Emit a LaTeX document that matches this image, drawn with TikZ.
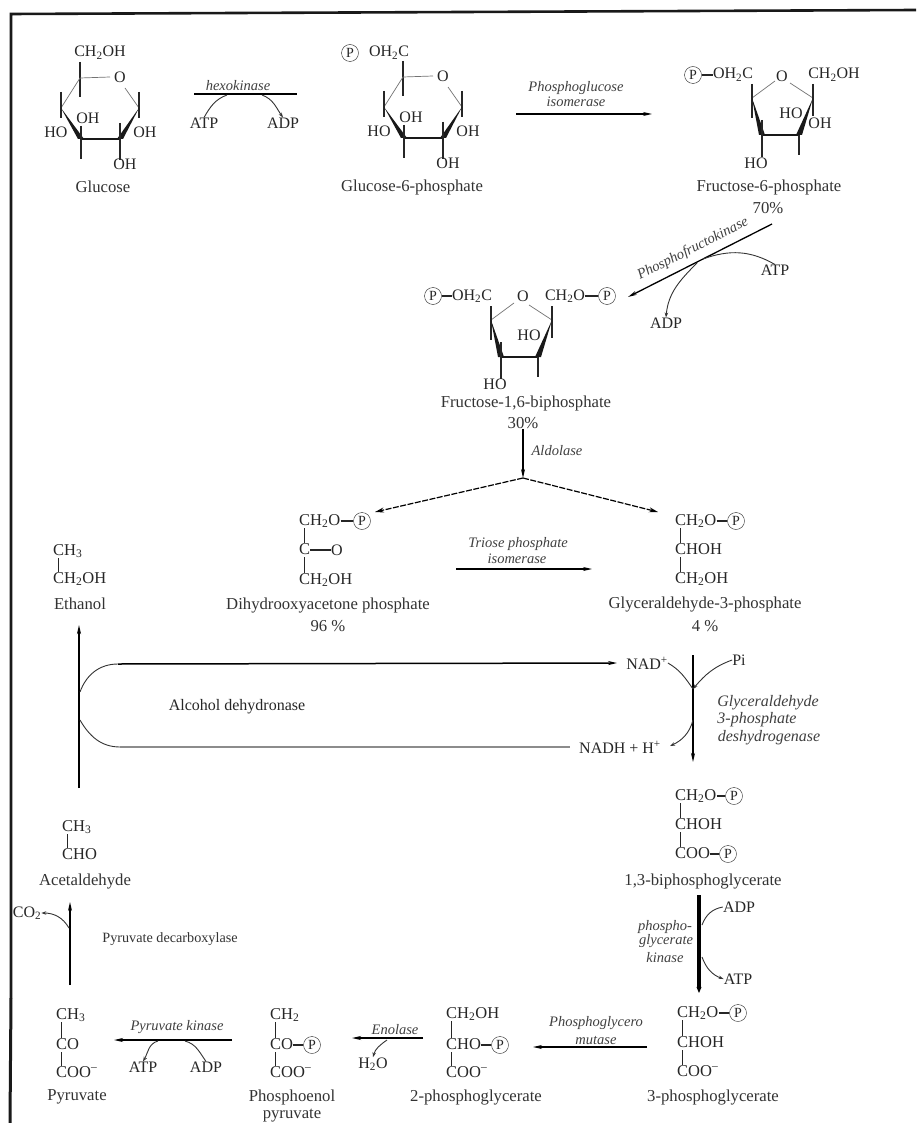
\documentclass[tikz,border=0pt]{standalone}
\usepackage{fontspec}
\usetikzlibrary{arrows.meta}
\setmainfont{Liberation Serif}

\tikzset{
  chem/.style={anchor=west, inner sep=0pt, text height=11pt, text depth=3pt, text=black!85, font=\fontsize{16.5}{18}\selectfont},
  atom/.style={inner sep=0pt, text=black!85, font=\fontsize{16}{18}\selectfont},
  lbl/.style={inner sep=0pt, text=black!80, font=\fontsize{16.7}{18}\selectfont},
  enz/.style={inner sep=0pt, text=black!75, font=\fontsize{14.5}{16}\selectfont\itshape},
  bigenz/.style={inner sep=0pt, text=black!75, font=\fontsize{16}{18}\selectfont\itshape},
  phos/.style={circle, draw=black!85, inner sep=0pt, minimum size=17pt, text=black!85, font=\fontsize{14}{16}\selectfont},
  bond/.style={black!85, line width=1.1pt},
  thinbond/.style={black!55, line width=0.7pt},
  rxn/.style={black, line width=1.3pt, -{Stealth[length=9pt,width=4pt]}},
  branch/.style={black, line width=1.2pt, dash pattern=on 6pt off 1.5pt, -{Stealth[length=9pt,width=5pt]}},
  side/.style={black!80, line width=0.9pt},
  sidearrow/.style={side, -{Stealth[length=5pt,width=3.5pt]}},
}
\newcommand{\stick}[2]{\draw[bond] ([xshift=5.5pt]#1.south west) -- ([xshift=5.5pt]#2.north west);}

\begin{document}
\begin{tikzpicture}[x=1pt, y=-1pt]

  \useasboundingbox (0,0) rectangle (916,1123);
  \fill[white] (0,0) rectangle (916,1123);

  % Frame (top, left; the scan has no right or bottom edge)
  \coordinate (frame-tr) at (916,10);
  \coordinate (frame-tl) at (11,14);
  \coordinate (frame-ml) at (11,998);
  \coordinate (frame-bl) at (10,1123);
  \draw[black!90, line width=2.6pt] (frame-tr) -- (frame-tl) -- (frame-ml);
  \draw[black!90, line width=3pt] (frame-ml) -- (frame-bl);

  % Six-membered rings: Glucose, Glucose-6-phosphate
  \foreach \rx/\ry in {0/0, 323/-1} {
    \begin{scope}[shift={(\rx,\ry)}]
      \coordinate (top) at (80,62);
      \coordinate (c5) at (80,78);
      \coordinate (c5d) at (80,97);
      \coordinate (o1) at (110,77);
      \coordinate (o2) at (125,88);
      \coordinate (c1) at (139,108);
      \coordinate (c1u) at (139,92);
      \coordinate (c1d) at (139,118);
      \coordinate (c4) at (61,108);
      \coordinate (c4u) at (61,92);
      \coordinate (c4d) at (61,118);
      \coordinate (c3) at (81,139);
      \coordinate (c3d) at (81,159);
      \coordinate (c3u) at (81,126);
      \coordinate (c2) at (120,139);
      \coordinate (c2d) at (120,160);
      \coordinate (c2u) at (120,123);
      \draw[bond] (top) -- (c5d);
      \draw[thinbond] (c5) -- (o1);
      \draw[thinbond] (o2) -- (c1);
      \draw[thinbond] (c4) -- (c5);
      \draw[bond] (c1u) -- (c1d);
      \draw[bond] (c4u) -- (c4d);
      \fill[black!90] (c4) -- ([xshift=3pt]c3) -- ([xshift=-3pt]c3) -- cycle;
      \fill[black!90] (c1) -- ([xshift=3pt]c2) -- ([xshift=-3pt]c2) -- cycle;
      \draw[black!90, line width=2.6pt] (c3) -- (c2);
      \draw[bond] (c3u) -- (c3d);
      \draw[bond] (c2u) -- (c2d);
    \end{scope}
  }

  % Five-membered rings: Fructose-6-phosphate, Fructose-1,6-biphosphate
  \foreach \rx/\ry in {0/0, -261/222} {
    \begin{scope}[shift={(\rx,\ry)}]
      \coordinate (lt) at (752,98);
      \coordinate (ltu) at (752,84);
      \coordinate (ltd) at (752,118);
      \coordinate (rt) at (813,98);
      \coordinate (rtu) at (813,84);
      \coordinate (rtd) at (813,116);
      \coordinate (ol) at (775,81);
      \coordinate (or) at (790,83);
      \coordinate (bl) at (762,135);
      \coordinate (blu) at (762,120);
      \coordinate (bld) at (762,157);
      \coordinate (br) at (799,135);
      \coordinate (brd) at (799,155);
      \draw[thinbond] (lt) -- (ol);
      \draw[thinbond] (or) -- (rt);
      \draw[bond] (ltu) -- (ltd);
      \draw[bond] (rtu) -- (rtd);
      \fill[black!90] (lt) -- ([xshift=3pt]bl) -- ([xshift=-3pt]bl) -- cycle;
      \fill[black!90] (rt) -- ([xshift=3pt]br) -- ([xshift=-3pt]br) -- cycle;
      \draw[black!90, line width=2pt] (bl) -- (br);
      \draw[bond] (blu) -- (bld);
      \draw[bond] (br) -- (brd);
    \end{scope}
  }

  % Glucose
  \node[atom] (glc-c6) at (100,53) {CH\textsubscript{2}OH};
  \node[atom] (glc-o) at (120,77) {O};
  \node[atom] (glc-oh2) at (88,118) {OH};
  \node[atom] (glc-oh1) at (145,132) {OH};
  \node[atom] (glc-ho) at (56,132) {HO};
  \node[atom] (glc-oh3) at (125,164) {OH};
  \node[lbl] (glc) at (103,187) {Glucose};

  % Glucose-6-phosphate
  \node[phos] (g6p-p) at (350,53) {P};
  \node[atom] (g6p-c6) at (389,53) {OH\textsubscript{2}C};
  \node[atom] (g6p-o) at (443,76) {O};
  \node[atom] (g6p-oh2) at (411,117) {OH};
  \node[atom] (g6p-oh1) at (468,131) {OH};
  \node[atom] (g6p-ho) at (379,131) {HO};
  \node[atom] (g6p-oh3) at (448,163) {OH};
  \node[lbl] (g6p) at (412,187) {Glucose-6-phosphate};

  % Fructose-6-phosphate
  \node[phos] (f6p-p) at (693,75) {P};
  \node[atom] (f6p-c6) at (733,75) {OH\textsubscript{2}C};
  \node[atom] (f6p-o) at (782,76) {O};
  \node[atom] (f6p-c1) at (834,75) {CH\textsubscript{2}OH};
  \node[atom] (f6p-ho2) at (791,113) {HO};
  \node[atom] (f6p-oh) at (820,123) {OH};
  \node[atom] (f6p-ho) at (756,163) {HO};
  \node[lbl] (f6p) at (769,187) {Fructose-6-phosphate};
  \node[lbl] (f6p-pct) at (768,208) {70\%};
  \draw[bond] (f6p-p) -- (f6p-c6);

  % Fructose-1,6-biphosphate
  \node[phos] (fbp-p1) at (433,296) {P};
  \node[atom] (fbp-c6) at (472,296) {OH\textsubscript{2}C};
  \node[atom] (fbp-o) at (523,296) {O};
  \node[atom] (fbp-c1) at (565,296) {CH\textsubscript{2}O};
  \node[phos] (fbp-p2) at (607,296) {P};
  \node[atom] (fbp-ho2) at (529,335) {HO};
  \node[atom] (fbp-ho) at (495,384) {HO};
  \node[lbl] (fbp) at (526,403) {Fructose-1,6-biphosphate};
  \node[lbl] (fbp-pct) at (523,423) {30\%};
  \draw[bond] (fbp-p1) -- (fbp-c6);
  \draw[bond] (fbp-c1) -- (fbp-p2);

  % Dihydrooxyacetone phosphate
  \node[chem] (dhap-a) at (299,521) {CH\textsubscript{2}O};
  \node[phos] (dhap-p) at (362,521) {P};
  \node[chem] (dhap-b) at (299,550) {C};
  \node[atom] (dhap-o) at (337,550) {O};
  \node[chem] (dhap-c) at (299,580) {CH\textsubscript{2}OH};
  \node[lbl] (dhap) at (328,606) {Dihydrooxyacetone phosphate};
  \node[lbl] (dhap-pct) at (328,626) {96 \%};
  \draw[bond] (dhap-a) -- (dhap-p);
  \draw[bond] (dhap-b) -- (dhap-o);
  \stick{dhap-a}{dhap-b}
  \stick{dhap-b}{dhap-c}

  % Glyceraldehyde-3-phosphate
  \node[chem] (gap-a) at (675,521) {CH\textsubscript{2}O};
  \node[phos] (gap-p) at (736,521) {P};
  \node[chem] (gap-b) at (675,550) {CHOH};
  \node[chem] (gap-c) at (675,579) {CH\textsubscript{2}OH};
  \node[lbl] (gap) at (705,605) {Glyceraldehyde-3-phosphate};
  \node[lbl] (gap-pct) at (705,626) {4 \%};
  \draw[bond] (gap-a) -- (gap-p);
  \stick{gap-a}{gap-b}
  \stick{gap-b}{gap-c}

  % Ethanol
  \node[chem] (eth-a) at (53,551) {CH\textsubscript{3}};
  \node[chem] (eth-b) at (53,579) {CH\textsubscript{2}OH};
  \node[lbl] (eth) at (80,604) {Ethanol};
  \stick{eth-a}{eth-b}

  % 1,3-biphosphoglycerate
  \node[chem] (bpg-a) at (675,796) {CH\textsubscript{2}O};
  \node[phos] (bpg-p1) at (734,796) {P};
  \node[chem] (bpg-b) at (675,825) {CHOH};
  \node[chem] (bpg-c) at (675,854) {COO};
  \node[phos] (bpg-p2) at (728,854) {P};
  \node[lbl] (bpg) at (703,881) {1,3-biphosphoglycerate};
  \draw[bond] (bpg-a) -- (bpg-p1);
  \draw[bond] (bpg-c) -- (bpg-p2);
  \stick{bpg-a}{bpg-b}
  \stick{bpg-b}{bpg-c}

  % 3-phosphoglycerate
  \node[chem] (pg3-a) at (677,1013) {CH\textsubscript{2}O};
  \node[phos] (pg3-p) at (738,1013) {P};
  \node[chem] (pg3-b) at (677,1043) {CHOH};
  \node[chem] (pg3-c) at (677,1072) {COO\textsuperscript{--}};
  \node[lbl] (pg3) at (713,1097) {3-phosphoglycerate};
  \draw[bond] (pg3-a) -- (pg3-p);
  \stick{pg3-a}{pg3-b}
  \stick{pg3-b}{pg3-c}

  % 2-phosphoglycerate
  \node[chem] (pg2-a) at (446,1014) {CH\textsubscript{2}OH};
  \node[chem] (pg2-b) at (446,1045) {CHO};
  \node[phos] (pg2-p) at (500,1045) {P};
  \node[chem] (pg2-c) at (446,1073) {COO\textsuperscript{--}};
  \node[lbl] (pg2) at (476,1097) {2-phosphoglycerate};
  \draw[bond] (pg2-b) -- (pg2-p);
  \stick{pg2-a}{pg2-b}
  \stick{pg2-b}{pg2-c}

  % Phosphoenol pyruvate
  \node[chem] (pep-a) at (270,1015) {CH\textsubscript{2}};
  \node[chem] (pep-b) at (270,1045) {CO};
  \node[phos] (pep-p) at (312,1045) {P};
  \node[chem] (pep-c) at (270,1073) {COO\textsuperscript{--}};
  \node[lbl] (pep1) at (292,1097) {Phosphoenol};
  \node[lbl] (pep2) at (292,1116) {pyruvate};
  \draw[bond] (pep-b) -- (pep-p);
  \stick{pep-a}{pep-b}
  \stick{pep-b}{pep-c}

  % Pyruvate
  \node[chem] (pyr-a) at (56,1015) {CH\textsubscript{3}};
  \node[chem] (pyr-b) at (56,1045) {CO};
  \node[chem] (pyr-c) at (56,1073) {COO\textsuperscript{--}};
  \node[lbl] (pyr) at (77,1097) {Pyruvate};
  \stick{pyr-a}{pyr-b}
  \stick{pyr-b}{pyr-c}

  % Acetaldehyde
  \node[chem] (ace-a) at (62,827) {CH\textsubscript{3}};
  \node[chem] (ace-b) at (62,855) {CHO};
  \node[lbl] (ace) at (85,881) {Acetaldehyde};
  \stick{ace-a}{ace-b}

  % Hexokinase
  \coordinate (hk-a) at (194,94);
  \coordinate (hk-b) at (297,94);
  \coordinate (hk-c) at (227,95);
  \coordinate (hk-d) at (262,95);
  \node[enz] (hk) at (238,86) {hexokinase};
  \node[atom] (hk-atp) at (204,123) {ATP};
  \node[atom] (hk-adp) at (283,123) {ADP};
  \draw[black, line width=1.3pt] (hk-a) -- (hk-b);
  \draw[side] (hk-atp.north) to[out=60, in=200] (hk-c);
  \draw[sidearrow] (hk-d) to[out=-20, in=125] (hk-adp.north);

  % Phosphoglucose isomerase
  \coordinate (pgi-a) at (516,114);
  \coordinate (pgi-b) at (652,114);
  \node[enz] (pgi1) at (576,88) {Phosphoglucose};
  \node[enz] (pgi2) at (576,102) {isomerase};
  \draw[rxn] (pgi-a) -- (pgi-b);

  % Phosphofructokinase
  \coordinate (pfk-a) at (772,224);
  \coordinate (pfk-b) at (628,297);
  \coordinate (pfk-c) at (703,259);
  \coordinate (pfk-d) at (697,263);
  \node[enz, rotate=27] (pfk) at (693,249) {Phosphofructokinase};
  \node[atom] (pfk-atp) at (775,270) {ATP};
  \node[atom] (pfk-adp) at (666,323) {ADP};
  \draw[rxn] (pfk-a) -- (pfk-b);
  \draw[side] (pfk-atp.north) to[out=150, in=20] (pfk-c);
  \draw[sidearrow] (pfk-d) to[out=225, in=85] (pfk-adp.north);

  % Aldolase and the branch
  \coordinate (ald-b) at (523,478);
  \coordinate (dhap-in) at (375,512);
  \coordinate (gap-in) at (658,512);
  \node[enz] (ald) at (557,451) {Aldolase};
  \draw[rxn] (fbp-pct.south) -- (ald-b);
  \draw[branch] (ald-b) -- (dhap-in);
  \draw[branch] (ald-b) -- (gap-in);

  % Triose phosphate isomerase
  \coordinate (tpi-a) at (456,569);
  \coordinate (tpi-b) at (592,569);
  \node[enz] (tpi1) at (518,544) {Triose phosphate};
  \node[enz] (tpi2) at (517,559) {isomerase};
  \draw[rxn] (tpi-a) -- (tpi-b);

  % Alcohol dehydrogenation loop
  \coordinate (adh-a) at (79,788);
  \coordinate (adh-b) at (79,625);
  \coordinate (adh-c) at (80,692);
  \coordinate (adh-d) at (118,664);
  \coordinate (adh-e) at (80,720);
  \coordinate (adh-f) at (120,747);
  \node[atom] (nad) at (647,663) {NAD\textsuperscript{+}};
  \node[atom] (nadh) at (620,747) {NADH + H\textsuperscript{+}};
  \node[atom] (adh) at (237,707) {Alcohol dehydronase};
  \draw[rxn, line width=1.6pt] (adh-a) -- (adh-b);
  \draw[side] (adh-c) to[out=70, in=180] (adh-d);
  \draw[rxn, line width=1.5pt, shorten >=9pt] (adh-d) -- (nad.west);
  \draw[side] (adh-e) to[out=-60, in=180] (adh-f);
  \draw[black!45, line width=1.1pt, shorten >=9pt] (adh-f) -- (nadh.west);

  % Glyceraldehyde 3-phosphate deshydrogenase
  \coordinate (gapdh-a) at (693,655);
  \coordinate (gapdh-b) at (693,762);
  \coordinate (gapdh-c) at (693,689);
  \coordinate (gapdh-d) at (693,720);
  \coordinate (gapdh-e) at (670,746);
  \node[atom] (pi) at (739,660) {Pi};
  \node[bigenz] (gapdh1) at (768,703) {Glyceraldehyde};
  \node[bigenz] (gapdh2) at (757,720) {3-phosphate};
  \node[bigenz] (gapdh3) at (769,738) {deshydrogenase};
  \draw[rxn, line width=1.6pt] (gapdh-a) -- (gapdh-b);
  \draw[side] (nad.east) to[out=-30, in=125] (gapdh-c);
  \draw[sidearrow] (pi.west) to[out=200, in=50] (gapdh-c);
  \draw[sidearrow] (gapdh-d) to[out=-105, in=25] (gapdh-e);

  % Phosphoglycerate kinase
  \coordinate (pgk-a) at (699,895);
  \coordinate (pgk-b) at (699,993);
  \coordinate (pgk-c) at (702,925);
  \coordinate (pgk-d) at (702,957);
  \node[enz] (pgk1) at (665,927) {phospho-};
  \node[enz] (pgk2) at (666,941) {glycerate};
  \node[enz] (pgk3) at (665,958) {kinase};
  \node[atom] (pgk-adp) at (739,907) {ADP};
  \node[atom] (pgk-atp) at (738,979) {ATP};
  \draw[black, line width=3.2pt, -{Stealth[length=6pt,width=5pt]}] (pgk-a) -- (pgk-b);
  \draw[side] (pgk-c) to[out=70, in=190] (pgk-adp.west);
  \draw[sidearrow] (pgk-d) to[out=-70, in=160] (pgk-atp.west);

  % Phosphoglycero mutase
  \coordinate (pgm-a) at (647,1047);
  \coordinate (pgm-b) at (533,1047);
  \node[enz] (pgm1) at (596,1023) {Phosphoglycero};
  \node[enz] (pgm2) at (596,1040) {mutase};
  \draw[rxn] (pgm-a) -- (pgm-b);

  % Enolase
  \coordinate (eno-a) at (423,1038);
  \coordinate (eno-b) at (352,1038);
  \coordinate (eno-c) at (387,1040);
  \node[enz] (eno) at (395,1030) {Enolase};
  \node[atom] (eno-w) at (373,1064) {H\textsubscript{2}O};
  \draw[rxn, line width=1.7pt] (eno-a) -- (eno-b);
  \draw[sidearrow] (eno-c) to[out=215, in=75] (eno-w.north);

  % Pyruvate kinase
  \coordinate (pk-a) at (232,1040);
  \coordinate (pk-b) at (114,1040);
  \coordinate (pk-c) at (158,1041);
  \coordinate (pk-d) at (185,1041);
  \node[enz] (pk) at (177,1027) {Pyruvate kinase};
  \node[atom] (pk-atp) at (143,1067) {ATP};
  \node[atom] (pk-adp) at (206,1067) {ADP};
  \draw[rxn, line width=1.7pt] (pk-a) -- (pk-b);
  \draw[sidearrow] (pk-c) to[out=195, in=60] (pk-atp.north);
  \draw[side] (pk-d) to[out=-15, in=125] (pk-adp.north);

  % Pyruvate decarboxylase
  \coordinate (pdc-a) at (70,985);
  \coordinate (pdc-b) at (70,902);
  \coordinate (pdc-c) at (69,928);
  \node[atom] (pdc-co) at (27,913) {CO\textsubscript{2}};
  \node[lbl, font=\fontsize{14.2}{16}\selectfont] (pdc) at (170,939) {Pyruvate decarboxylase};
  \draw[rxn] (pdc-a) -- (pdc-b);
  \draw[sidearrow] (pdc-c) to[out=120, in=0] (pdc-co.east);

\end{tikzpicture}
\end{document}
